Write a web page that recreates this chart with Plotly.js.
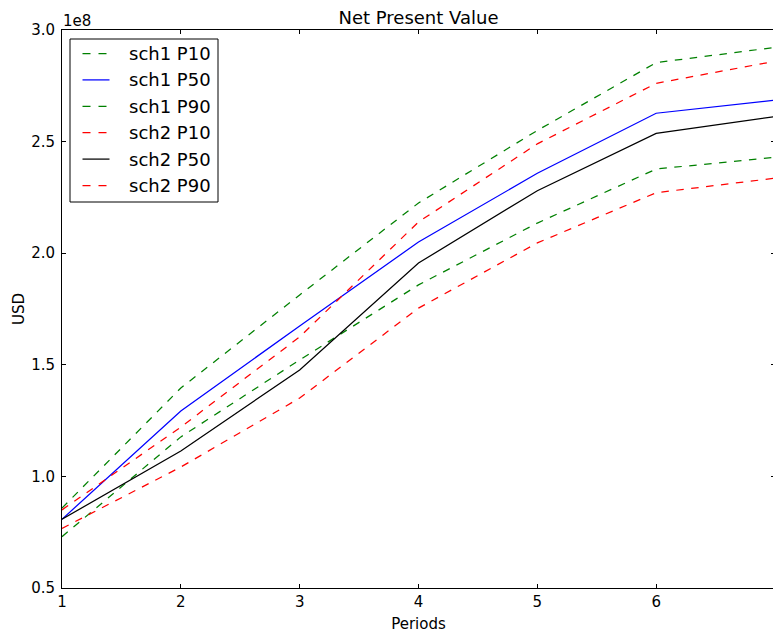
<!DOCTYPE html>
<html>
<head>
<meta charset="utf-8">
<script src="https://cdn.plot.ly/plotly-3.0.1.min.js"></script>
<style>
html,body{margin:0;padding:0;overflow:hidden;background:#fff;}
#chart{width:777px;height:634px;}
</style>
</head>
<body>
<div id="chart"></div>
<script>
// Data (USD, in units of 1e8)
const periods = [1, 2, 3, 4, 5, 6, 7];
const seriesNames = ["sch1 P10", "sch1 P50", "sch1 P90", "sch2 P10", "sch2 P50", "sch2 P90"];
const sch1_p10 = [0.858, 1.396, 1.813, 2.225, 2.550, 2.854, 2.922];
const sch1_p50 = [0.808, 1.293, 1.674, 2.050, 2.358, 2.627, 2.686];
const sch1_p90 = [0.730, 1.177, 1.522, 1.858, 2.135, 2.377, 2.430];
const sch2_p10 = [0.850, 1.221, 1.625, 2.140, 2.490, 2.761, 2.860];
const sch2_p50 = [0.808, 1.114, 1.477, 1.956, 2.280, 2.537, 2.612];
const sch2_p90 = [0.767, 1.042, 1.351, 1.754, 2.046, 2.271, 2.336];
const yTickVals = [0.5, 1.0, 1.5, 2.0, 2.5, 3.0];
const yTickText = ["0.5", "1.0", "1.5", "2.0", "2.5", "3.0"];
const xTickVals = [1, 2, 3, 4, 5, 6];

const seriesValues = [sch1_p10, sch1_p50, sch1_p90, sch2_p10, sch2_p50, sch2_p90];
const seriesColors = ["#008000", "#0000ff", "#008000", "#ff0000", "#000000", "#ff0000"];
const seriesDash = ["7.5px,7.5px", "solid", "7.5px,7.5px", "7.5px,7.5px", "solid", "7.5px,7.5px"];

const FONT = "DejaVu Sans, sans-serif";
const W = 776, H = 634;
const M = {l: 62, r: 1, t: 30, b: 46};
const PW = W - M.l - M.r, PH = H - M.t - M.b;
const px2x = p => (p - M.l) / PW;
const py2y = p => (H - M.b - p) / PH;

const traces = seriesNames.map((n, i) => ({
  x: periods, y: seriesValues[i], name: n, type: "scatter", mode: "lines",
  line: {color: seriesColors[i], width: 1.25, dash: seriesDash[i]},
  showlegend: false
}));

// manual legend (matplotlib-style box)
const shapes = [{
  type: "rect", xref: "paper", yref: "paper",
  x0: px2x(70), x1: px2x(218), y0: py2y(202), y1: py2y(39),
  line: {color: "#000", width: 1}, fillcolor: "#fff", layer: "above"
}];
const annotations = [];
seriesNames.forEach((n, i) => {
  const yc = 53.5 + i * 26.4;
  shapes.push({
    type: "line", xref: "paper", yref: "paper",
    x0: px2x(82.5), x1: px2x(109.5), y0: py2y(yc), y1: py2y(yc),
    line: {color: seriesColors[i], width: 1.25, dash: seriesDash[i] === "solid" ? "solid" : "8px,8px"},
    layer: "above"
  });
  annotations.push({
    xref: "paper", yref: "paper", x: px2x(127), y: py2y(yc),
    xanchor: "left", yanchor: "middle", showarrow: false, text: n,
    font: {family: FONT, size: 18, color: "#000"}
  });
});
annotations.push({
  xref: "paper", yref: "paper", x: px2x(61), y: py2y(21),
  xanchor: "left", yanchor: "middle", showarrow: false, text: "1e8",
  font: {family: FONT, size: 15, color: "#000"}
});

const layout = {
  width: W, height: H,
  margin: M,
  paper_bgcolor: "#fff", plot_bgcolor: "#fff",
  font: {family: FONT, size: 15, color: "#000"},
  title: {text: "Net Present Value", font: {family: FONT, size: 18, color: "#000"},
          x: (M.l + PW / 2) / W, xanchor: "center", y: 1 - 18 / H, yanchor: "middle", yref: "container"},
  xaxis: {
    range: [1, 7], tickvals: xTickVals, ticks: "inside", ticklen: 4, tickcolor: "#000",
    showline: true, linecolor: "#000", linewidth: 1, mirror: "ticks", showgrid: false, zeroline: false,
    tickfont: {family: FONT, size: 15, color: "#000"},
    title: {text: "Periods", font: {family: FONT, size: 15, color: "#000"}, standoff: 8}
  },
  yaxis: {
    range: [0.5, 3.0], tickvals: yTickVals, ticktext: yTickText, ticks: "inside", ticklen: 4, tickcolor: "#000",
    showline: true, linecolor: "#000", linewidth: 1, mirror: "ticks", showgrid: false, zeroline: false,
    tickfont: {family: FONT, size: 15, color: "#000"}, ticklabelstandoff: 3,
    title: {text: "USD", font: {family: FONT, size: 15, color: "#000"}, standoff: 2}
  },
  shapes: shapes,
  annotations: annotations,
  showlegend: false
};

Plotly.newPlot("chart", traces, layout, {displayModeBar: false, staticPlot: true});
</script>
</body>
</html>
